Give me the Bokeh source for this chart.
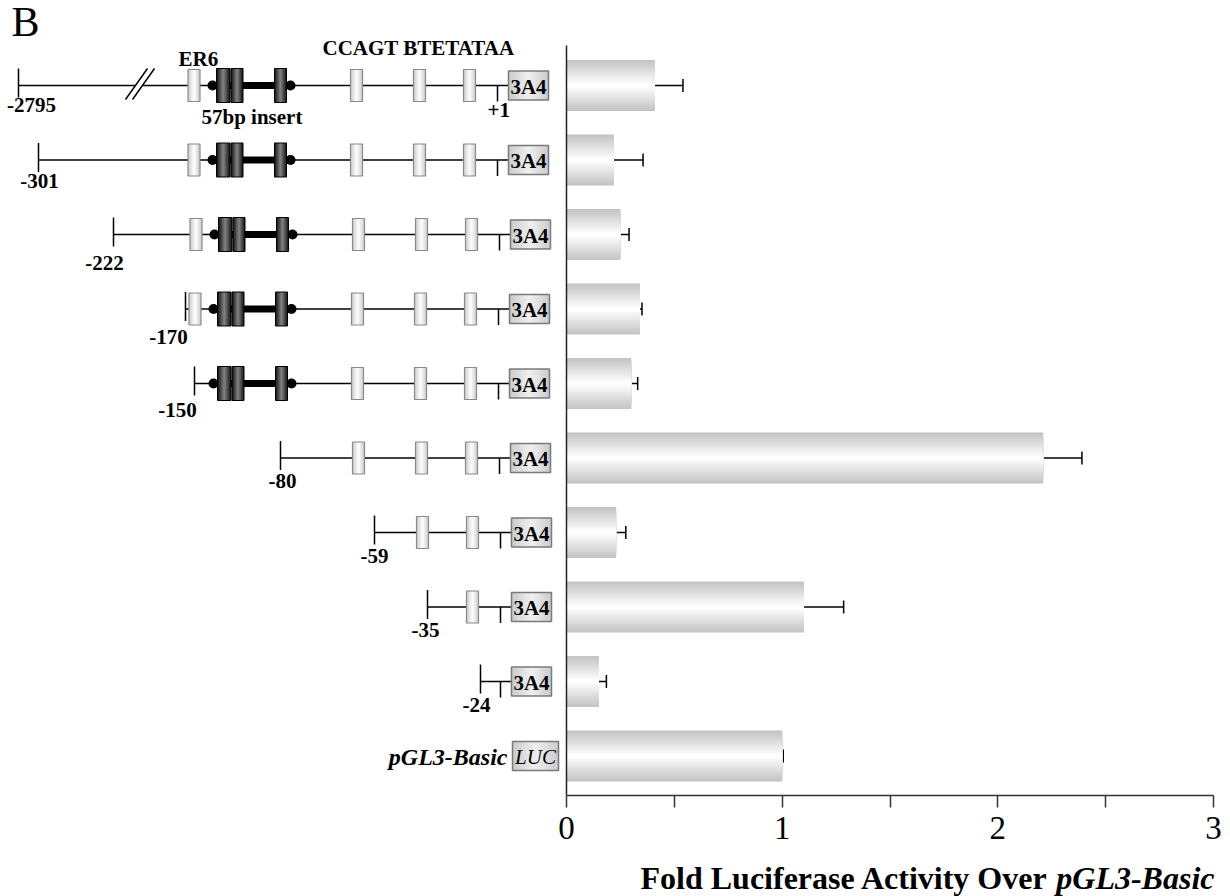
import numpy as np
from bokeh.plotting import figure
from bokeh.layouts import column
from bokeh.models import Range1d, ColumnDataSource, Whisker, TeeHead, FixedTicker
from bokeh.core.properties import value
from bokeh.embed import file_html
from bokeh.resources import INLINE

# ---------------- data ----------------
constructs = ["-2795", "-301", "-222", "-170", "-150", "-80", "-59", "-35", "-24", "pGL3-Basic"]
fold_activity = [0.41, 0.22, 0.25, 0.34, 0.30, 2.21, 0.23, 1.10, 0.15, 1.00]
fold_error = [0.13, 0.135, 0.04, 0.01, 0.03, 0.18, 0.045, 0.185, 0.035, 0.005]
major_ticks = [0, 1, 2, 3]
minor_ticks = [0.5, 1.5, 2.5]
x_title = "Fold Luciferase Activity Over"
x_title_italic = "pGL3-Basic"
panel_label = "B"
gene_label = "3A4"
vector_gene = "LUC"

# ---------------- layout (page pixels) ----------------
PAGE_W, PAGE_H = 1230, 896
FL, FR, FT, FB = 0, 1230, 0, 795
BOTTOM = 65
AX0, AX3 = 566, 1213
ROW0, PITCH = 85.0, 74.5
ppu = (AX3 - AX0) / 3.0

# schematic layout of the promoter constructs (pixel positions)
start_px = [18, 38, 113, 185, 194, 280, 374, 427, 480]
row_shift = [0, 0, 2, 1, 1, 2, 3, 3, 3]
label_cx = [31, 39, 104, 168, 177, 282, 374, 425, 476]
label_dy = [27, 29, 36, 36, 34, 31, 31, 31, 31]
ER6_CX = 193.5
LIGHT_CX = [356, 419, 469]
BOX_W, BOX_H = 12, 32
DARK = [(216, 229.5), (230.5, 242.5), (274, 286)]
INSERT = (212, 290)
TSS = 497
GENE_L, GENE_W, GENE_H = 508, 40, 29

SERIF = value("Liberation Serif")
LBL_PX = 21
LBL = f"{LBL_PX}px"


def vb(y, fs):
    """visual alphabetic baseline -> text glyph y (empirical offset)"""
    return np.asarray(y, float) - 0.36 * fs


xr = Range1d((FL - AX0) / ppu, (FR - AX0) / ppu)
yr = Range1d((FB - ROW0) / PITCH, (FT - ROW0) / PITCH)

p = figure(frame_width=FR - FL, frame_height=FB - FT, x_range=xr, y_range=yr,
           output_backend="svg", toolbar_location=None, y_axis_location=None,
           min_border_left=0, min_border_right=0, min_border_top=0,
           min_border_bottom=BOTTOM, outline_line_color=None)
p.xgrid.visible = False
p.ygrid.visible = False
p.extra_x_ranges = {"px": Range1d(FL, FR)}
p.extra_y_ranges = {"py": Range1d(FB, FT)}
PX = dict(x_range_name="px", y_range_name="py")

# ---------------- bars with gradient ----------------
rows = np.arange(len(constructs))
src = ColumnDataSource(dict(y=rows, v=fold_activity,
                            hi=np.array(fold_activity) + np.array(fold_error)))
BAR_H = 0.685
NL = 18
for k in range(NL):
    t = k / (NL - 1)
    g = int(round(196 + (255 - 196) * t))
    p.hbar(y="y", left=0, right="v", height=BAR_H * (1 - k / NL), source=src,
           fill_color=f"#{g:02x}{g:02x}{g:02x}", line_color=None)

wh = Whisker(source=src, base="y", lower="v", upper="hi", dimension="width",
             line_color="black", line_width=1.5,
             upper_head=TeeHead(size=13, line_color="black", line_width=1.5),
             lower_head=None)
p.add_layout(wh)

# vertical axis line
p.segment(x0=[0], y0=[(45 - ROW0) / PITCH], x1=[0], y1=[yr.start],
          line_color="#222222", line_width=1.5)

# x axis
ax = p.xaxis[0]
ax.ticker = FixedTicker(ticks=major_ticks, minor_ticks=minor_ticks)
ax.bounds = (0, 3)
ax.axis_line_color = "#333333"
ax.axis_line_width = 1.5
ax.major_tick_in = 0
ax.major_tick_out = 12
ax.minor_tick_in = 0
ax.minor_tick_out = 12
ax.major_tick_line_color = "#333333"
ax.minor_tick_line_color = "#333333"
ax.major_tick_line_width = 1.5
ax.minor_tick_line_width = 1.5
ax.major_label_text_font = "Liberation Serif"
ax.major_label_text_font_size = "33px"
ax.major_label_text_color = "black"
ax.major_label_standoff = 9

# ---------------- promoter schematic ----------------
ry = ROW0 + PITCH * rows
seg = {"x0": [], "y0": [], "x1": [], "y1": []}


def add_seg(x0, y0, x1, y1):
    seg["x0"].append(x0); seg["y0"].append(y0)
    seg["x1"].append(x1); seg["y1"].append(y1)


light = {"cx": [], "y": []}
dark = {"l": [], "r": [], "y": []}
ins = {"x0": [], "x1": [], "y": []}
gene = {"l": [], "y": []}

for i in range(len(start_px)):
    y = ry[i]
    s = row_shift[i]
    st = start_px[i]
    gl = GENE_L + s
    if i == 0:
        add_seg(st, y, 135, y)
        add_seg(142, y, gl, y)
        add_seg(125, y + 14, 147, y - 17)
        add_seg(132, y + 14, 154, y - 17)
    else:
        add_seg(st, y, gl, y)
    add_seg(st, y - 17, st, y + 12)
    add_seg(TSS + s, y, TSS + s, y + 16)
    for cx in [ER6_CX] + LIGHT_CX:
        if cx - BOX_W / 2 > st:
            light["cx"].append(cx + s); light["y"].append(y)
    if INSERT[0] > st:
        ins["x0"].append(INSERT[0] + s); ins["x1"].append(INSERT[1] + s); ins["y"].append(y)
        for (l, r) in DARK:
            dark["l"].append(l + s); dark["r"].append(r + s); dark["y"].append(y)
    gene["l"].append(gl); gene["y"].append(y)

p.segment(x0="x0", y0="y0", x1="x1", y1="y1", source=ColumnDataSource(seg),
          line_color="black", line_width=1.5, **PX)

# 57bp insert thick bar
ins_src = ColumnDataSource(ins)
p.segment(x0="x0", y0="y", x1="x1", y1="y", source=ins_src, line_color="black",
          line_width=7, **PX)
p.scatter(x="x0", y="y", source=ins_src, size=10, marker="circle", fill_color="black",
          line_color=None, **PX)
p.scatter(x="x1", y="y", source=ins_src, size=10, marker="circle", fill_color="black",
          line_color=None, **PX)


def lerp_hex(c0, c1, t):
    v = [int(round(a + (b - a) * t)) for a, b in zip(c0, c1)]
    return "#%02x%02x%02x" % tuple(v)


def grad_quads(l, r, y, h, edge, mid, outline, n=8, lw=1.2):
    l = np.asarray(l, float); r = np.asarray(r, float); y = np.asarray(y, float)
    cx = (l + r) / 2; hw = (r - l) / 2
    for k in range(n):
        f = 1 - k / n
        c = lerp_hex(edge, mid, k / (n - 1))
        p.quad(left=cx - hw * f, right=cx + hw * f, top=y - h / 2, bottom=y + h / 2,
               fill_color=c, line_color=None, **PX)
    p.quad(left=l, right=r, top=y - h / 2, bottom=y + h / 2, fill_color=None,
           line_color=outline, line_width=lw, **PX)


lc = np.array(light["cx"])
grad_quads(lc - BOX_W / 2, lc + BOX_W / 2, light["y"], BOX_H,
           (205, 205, 205), (252, 252, 252), "#8a8a8a")
grad_quads(dark["l"], dark["r"], dark["y"], 34, (25, 25, 25), (125, 125, 125), "#000000",
           lw=1.0)

# gene boxes
gl = np.array(gene["l"] + [512])
gr = np.array([g + GENE_W for g in gene["l"]] + [558])
gy = np.array(gene["y"] + [ry[9]])
grad_quads(gl, gr, gy, GENE_H, (205, 205, 205), (238, 238, 238), "#7a7a7a", lw=1.5)

txt = dict(text_font=SERIF, text_color="black", **PX)
p.text(x=(gl[:-1] + gr[:-1]) / 2, y=gy[:-1] + 1, text=[gene_label] * 9, text_align="center",
       text_baseline="middle", text_font_style="bold", text_font_size=LBL, **txt)
p.text(x=[(gl[-1] + gr[-1]) / 2], y=[gy[-1] + 1], text=[vector_gene], text_align="center",
       text_baseline="middle", text_font_style="italic", text_font_size=LBL, **txt)
p.text(x=[507], y=[ry[9] + 1], text=[constructs[9]], text_align="right",
       text_baseline="middle", text_font_style="bold italic", text_font_size="24px", **txt)

# construct start labels
p.text(x=label_cx, y=vb([ry[i] + label_dy[i] for i in range(9)], LBL_PX), text=constructs[:9],
       text_align="center", text_baseline="alphabetic", text_font_style="bold",
       text_font_size=LBL, **txt)

# element annotations
p.text(x=[178, 201, 322, 487], y=vb([66, 124, 55, 117], LBL_PX),
       text=["ER6", "57bp insert", "CCAGT BTETATAA", "+1"],
       text_align="left", text_baseline="alphabetic", text_font_style="bold",
       text_font_size=LBL, **txt)

p.text(x=[11], y=vb([37], 42), text=[panel_label], text_align="left",
       text_baseline="alphabetic", text_font_size="42px", **txt)

# ---------------- axis title strip ----------------
STRIP_TOP = (FB - FT) + BOTTOM
TH = PAGE_H - STRIP_TOP
t = figure(width=PAGE_W, height=TH, x_range=Range1d(0, PAGE_W), y_range=Range1d(TH, 0),
           output_backend="svg", toolbar_location=None, x_axis_location=None,
           y_axis_location=None, min_border=0, outline_line_color=None)
t.xgrid.visible = False
t.ygrid.visible = False
TB = vb([889 - STRIP_TOP], 32)
t.text(x=[640], y=TB, text=[x_title], text_font=SERIF, text_font_style="bold",
       text_font_size="32px", text_align="left", text_baseline="alphabetic",
       text_color="black")
t.text(x=[1214], y=TB, text=[x_title_italic], text_font=SERIF,
       text_font_style="bold italic", text_font_size="32px", text_align="right",
       text_baseline="alphabetic", text_color="black")

layout = column(p, t, spacing=0)
open("out.html", "w").write(file_html(layout, INLINE))
